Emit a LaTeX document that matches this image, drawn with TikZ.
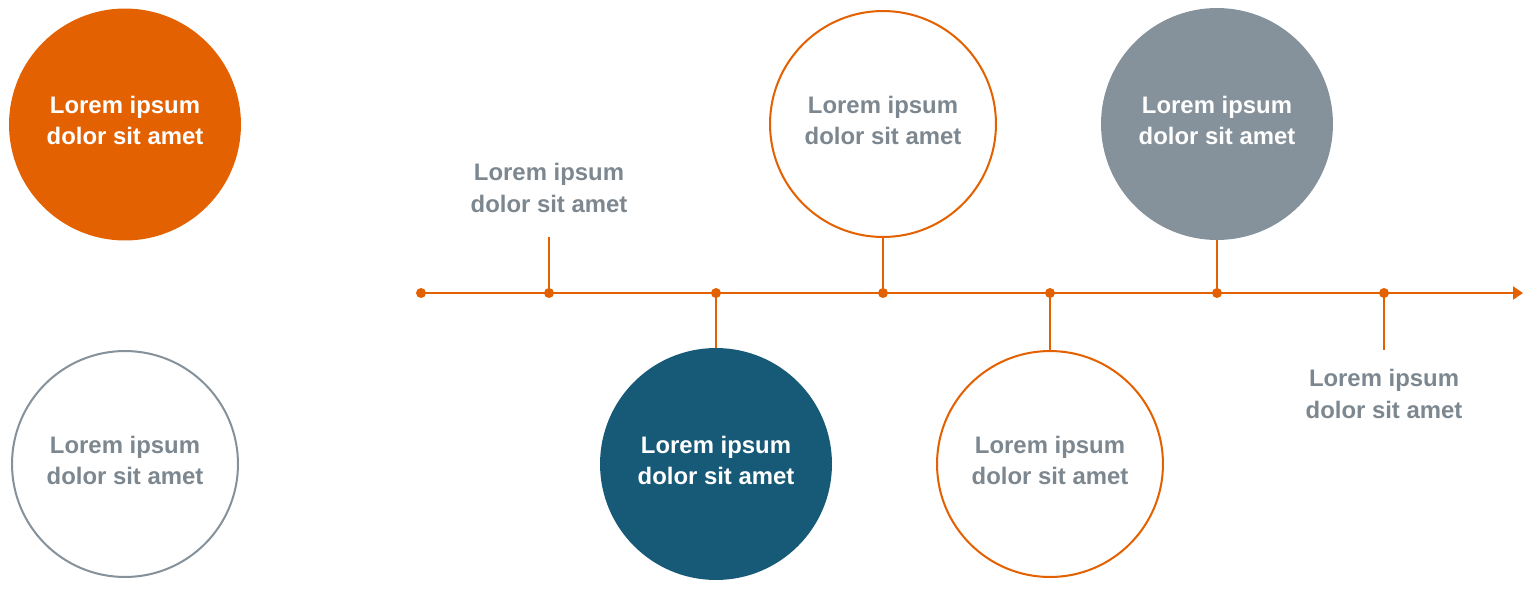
\documentclass[tikz,border=0pt]{standalone}
\usepackage{fontspec}
\setmainfont{Liberation Sans}
\usetikzlibrary{arrows.meta}
\definecolor{tlorange}{HTML}{E36100}
\definecolor{tlblue}{HTML}{175A77}
\definecolor{tlgray}{HTML}{86929B}
\definecolor{tltext}{HTML}{7C878F}
\tikzset{
	bubble/.style={circle, inner sep=0pt, align=center, text depth=0.16cm, font=\bfseries\fontsize{13.6}{17.6}\selectfont},
	fullbubble/.style={bubble, minimum size=4.64cm, text=white},
	ringbubble/.style={bubble, minimum size=4.52cm, line width=1.15pt, fill=white, text=tltext},
	tldot/.style={circle, fill=tlorange, inner sep=0pt, minimum size=0.2cm},
	tltext/.style={align=center, text=tltext, font=\bfseries\fontsize{13.6}{17.9}\selectfont},
	stem/.style={draw=tlorange, line width=1.3pt}
}
\begin{document}
\begin{tikzpicture}[x=0.02cm, y=-0.02cm]
	\useasboundingbox (0,0) rectangle (1528,589);
	\node[fullbubble, fill=tlorange] (legendfull) at (125,124.5) {Lorem ipsum\\dolor sit amet};
	\node[ringbubble, draw=tlgray] (legendring) at (125,464) {Lorem ipsum\\dolor sit amet};
	\coordinate (start) at (421,293);
	\coordinate (tip) at (1523,293);
	\draw[stem, -{Triangle[length=0.2cm, width=0.26cm]}] (start) -- (tip);
	\foreach \i/\x in {0/421, 1/549, 2/716, 3/883, 4/1050, 5/1217, 6/1384}
		\node[tldot] (d\i) at (\x,293) {};
	\node[fullbubble, fill=tlblue] (b2) at (716,464) {Lorem ipsum\\dolor sit amet};
	\node[ringbubble, draw=tlorange] (b3) at (883,124) {Lorem ipsum\\dolor sit amet};
	\node[ringbubble, draw=tlorange] (b4) at (1050,464) {Lorem ipsum\\dolor sit amet};
	\node[fullbubble, fill=tlgray] (b5) at (1217,124) {Lorem ipsum\\dolor sit amet};
	\node[tltext] (t1) at (549,188) {Lorem ipsum\\dolor sit amet};
	\node[tltext] (t6) at (1384,394) {Lorem ipsum\\dolor sit amet};
	\coordinate (e1) at (549,237);
	\coordinate (e6) at (1384,350);
	\draw[stem] (d1.center) -- (e1);
	\draw[stem] (d2.center) -- (b2);
	\draw[stem] (d3.center) -- (b3);
	\draw[stem] (d4.center) -- (b4);
	\draw[stem] (d5.center) -- (b5);
	\draw[stem] (d6.center) -- (e6);
\end{tikzpicture}
\end{document}
